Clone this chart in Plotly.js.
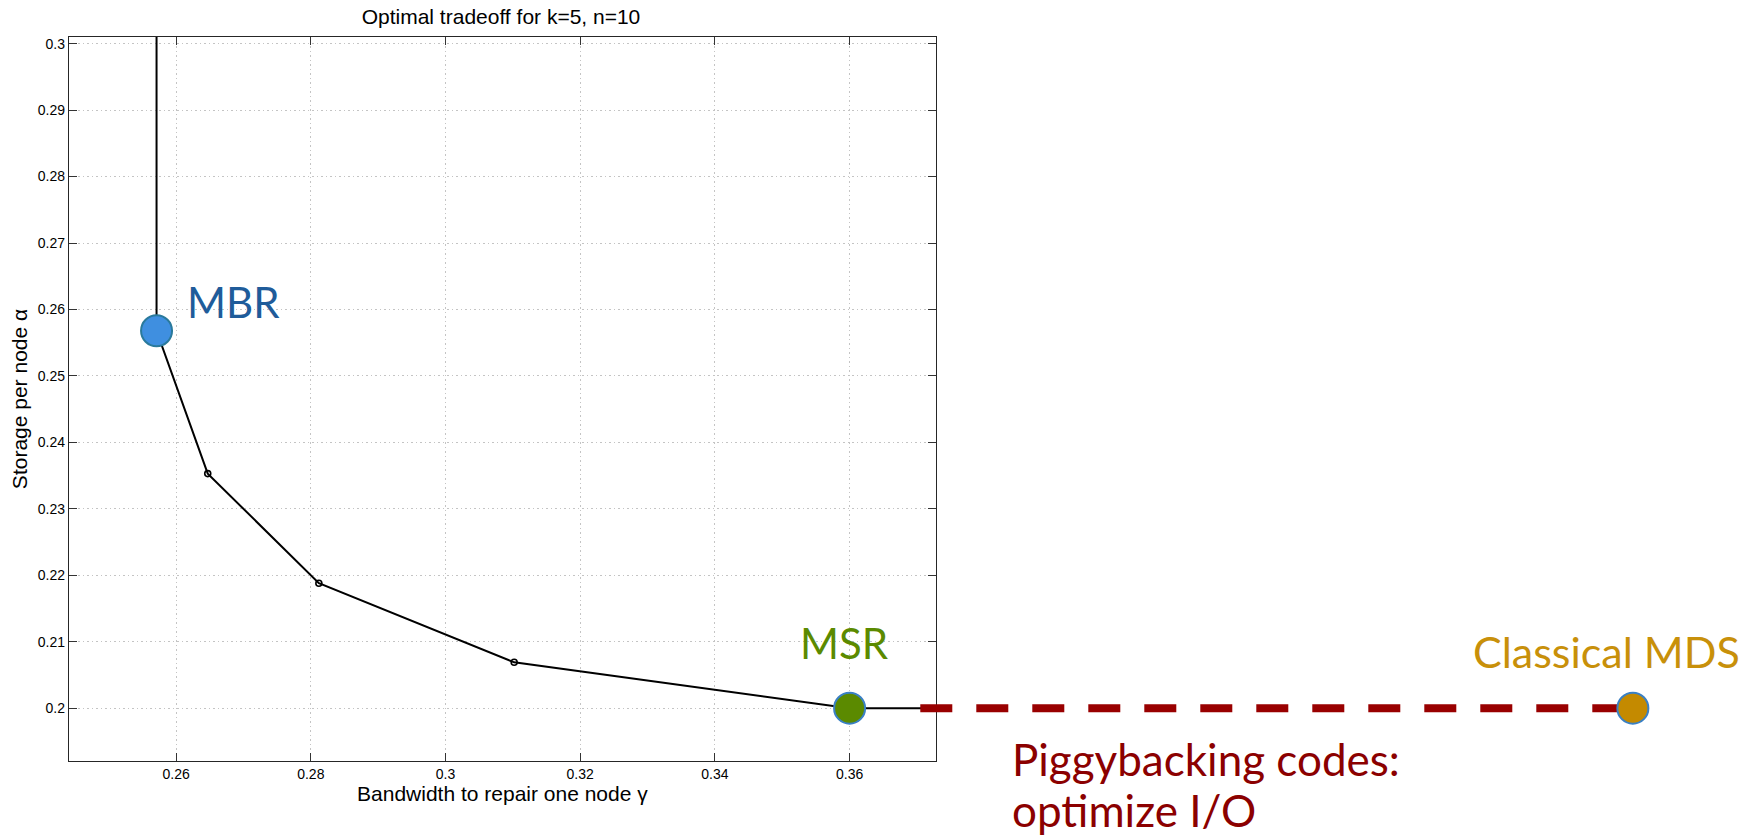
<!DOCTYPE html>
<html>
<head>
<meta charset="utf-8">
<script src="https://cdn.plot.ly/plotly-3.0.1.min.js"></script>
<style>html,body{margin:0;padding:0;background:#fff;}#chart{width:1752px;height:838px;}</style>
</head>
<body>
<div id="chart"></div>
<script>
// Optimal storage / repair-bandwidth tradeoff curve (k=5, n=10)
const curveX = [0.2571, 0.2571, 0.2647, 0.2812, 0.3102, 0.36, 0.38];
const curveY = [0.32, 0.2568, 0.2353, 0.2188, 0.2069, 0.2, 0.2];
const interiorX = [0.2647, 0.2812, 0.3102];
const interiorY = [0.2353, 0.2188, 0.2069];
const mbrX = [0.2571], mbrY = [0.2568];
const msrX = [0.36], msrY = [0.2];
const mdsX = [0.4763], mdsY = [0.2];
const piggyX = [0.3705, 0.4763];
const piggyY = [0.2, 0.2];
const xTickVals = [0.26, 0.28, 0.3, 0.32, 0.34, 0.36];
const xTickText = ["0.26", "0.28", "0.3", "0.32", "0.34", "0.36"];
const yTickVals = [0.2, 0.21, 0.22, 0.23, 0.24, 0.25, 0.26, 0.27, 0.28, 0.29, 0.3];
const yTickText = ["0.2", "0.21", "0.22", "0.23", "0.24", "0.25", "0.26", "0.27", "0.28", "0.29", "0.3"];

const xRange = [0.2441, 0.3728];
const yRange = [0.19205, 0.301];
const pxPerX = 134.7 / 0.02;
const ml = 69, mr = 0, mt = 37, mb = 77, W = 1752, H = 838;
const plotW = W - ml - mr;
const plotH = H - mt - mb;
const mainFrac = (xRange[1] - xRange[0]) * pxPerX / plotW;
const x2Range = [xRange[0], xRange[0] + plotW / pxPerX];
const px = v => (v - ml) / plotW;
const py = v => (H - mb - v) / plotH;

const traces = [
  {x: curveX, y: curveY, mode: 'lines', line: {color: '#000', width: 2}, hoverinfo: 'skip'},
  {x: interiorX, y: interiorY, mode: 'markers',
   marker: {symbol: 'circle-open', size: 6, color: '#000', line: {width: 1.6, color: '#000'}}},
  {x: piggyX, y: piggyY, xaxis: 'x2', yaxis: 'y2', mode: 'lines',
   line: {color: '#990000', width: 8, dash: '32px,24px'}},
  {x: mbrX, y: mbrY, mode: 'markers', cliponaxis: false,
   marker: {size: 31, color: '#3f8fe0', line: {color: '#2a7a9c', width: 2}}},
  {x: msrX, y: msrY, mode: 'markers', cliponaxis: false,
   marker: {size: 31, color: '#5b8a00', line: {color: '#3a80c4', width: 2}}},
  {x: mdsX, y: mdsY, xaxis: 'x2', yaxis: 'y2', mode: 'markers', cliponaxis: false,
   marker: {size: 31, color: '#c48a00', line: {color: '#3a80c4', width: 2}}}
];

const sans = 'Liberation Sans, Arial, sans-serif';
const axFont = {family: sans, size: 14, color: '#000'};
const axisCommon = {
  ticks: 'inside', ticklen: 8, tickcolor: '#333', tickwidth: 1, tickfont: axFont,
  showline: true, linecolor: '#262626', linewidth: 1.2, mirror: 'ticks',
  showgrid: true, gridcolor: '#c4c4c4', griddash: '1.5px,3px', gridwidth: 1, zeroline: false
};
const layout = {
  width: W, height: H,
  margin: {l: ml, r: mr, t: mt, b: mb, pad: 0},
  paper_bgcolor: '#fff', plot_bgcolor: 'rgba(0,0,0,0)',
  showlegend: false,
  title: {text: 'Optimal tradeoff for k=5, n=10', xref: 'paper', x: px(501), xanchor: 'center',
          yref: 'container', y: 1 - 17 / H, yanchor: 'middle',
          font: {family: sans, size: 21, color: '#000'}},
  xaxis: Object.assign({}, axisCommon, {domain: [0, mainFrac], range: xRange,
          tickvals: xTickVals, ticktext: xTickText,
          title: {text: 'Bandwidth to repair one node γ', standoff: 3,
                  font: {family: sans, size: 21, color: '#000'}}}),
  yaxis: Object.assign({}, axisCommon, {domain: [0, 1], range: yRange,
          tickvals: yTickVals, ticktext: yTickText,
          title: {text: 'Storage per node α', standoff: 4,
                  font: {family: sans, size: 21, color: '#000'}}}),
  xaxis2: {domain: [0, 1], range: x2Range, anchor: 'y2', visible: false, fixedrange: true},
  yaxis2: {domain: [0, 1], range: yRange, anchor: 'x2', visible: false, fixedrange: true},
  annotations: [
    {text: 'MBR', xref: 'paper', yref: 'paper', x: px(233), y: py(302),
     xanchor: 'center', yanchor: 'middle', showarrow: false,
     font: {family: 'Lato, sans-serif', size: 42, color: '#1f5c9a'}},
    {text: 'MSR', xref: 'paper', yref: 'paper', x: px(844), y: py(643),
     xanchor: 'center', yanchor: 'middle', showarrow: false,
     font: {family: 'Lato, sans-serif', size: 42, color: '#5b8a00'}},
    {text: 'Classical MDS', xref: 'paper', yref: 'paper', x: px(1606), y: py(651),
     xanchor: 'center', yanchor: 'middle', showarrow: false,
     font: {family: 'Lato, sans-serif', size: 43, color: '#c8900a'}},
    {text: 'Piggybacking codes:', xref: 'paper', yref: 'paper',
     x: px(1010), y: py(759), xanchor: 'left', yanchor: 'middle', align: 'left',
     showarrow: false, font: {family: 'Lato, sans-serif', size: 44, color: '#8b0000'}},
    {text: 'optimize I/O', xref: 'paper', yref: 'paper',
     x: px(1010), y: py(810), xanchor: 'left', yanchor: 'middle', align: 'left',
     showarrow: false, font: {family: 'Lato, sans-serif', size: 44, color: '#8b0000'}}
  ]
};

Plotly.newPlot('chart', traces, layout, {displayModeBar: false, staticPlot: true});
</script>
</body>
</html>
